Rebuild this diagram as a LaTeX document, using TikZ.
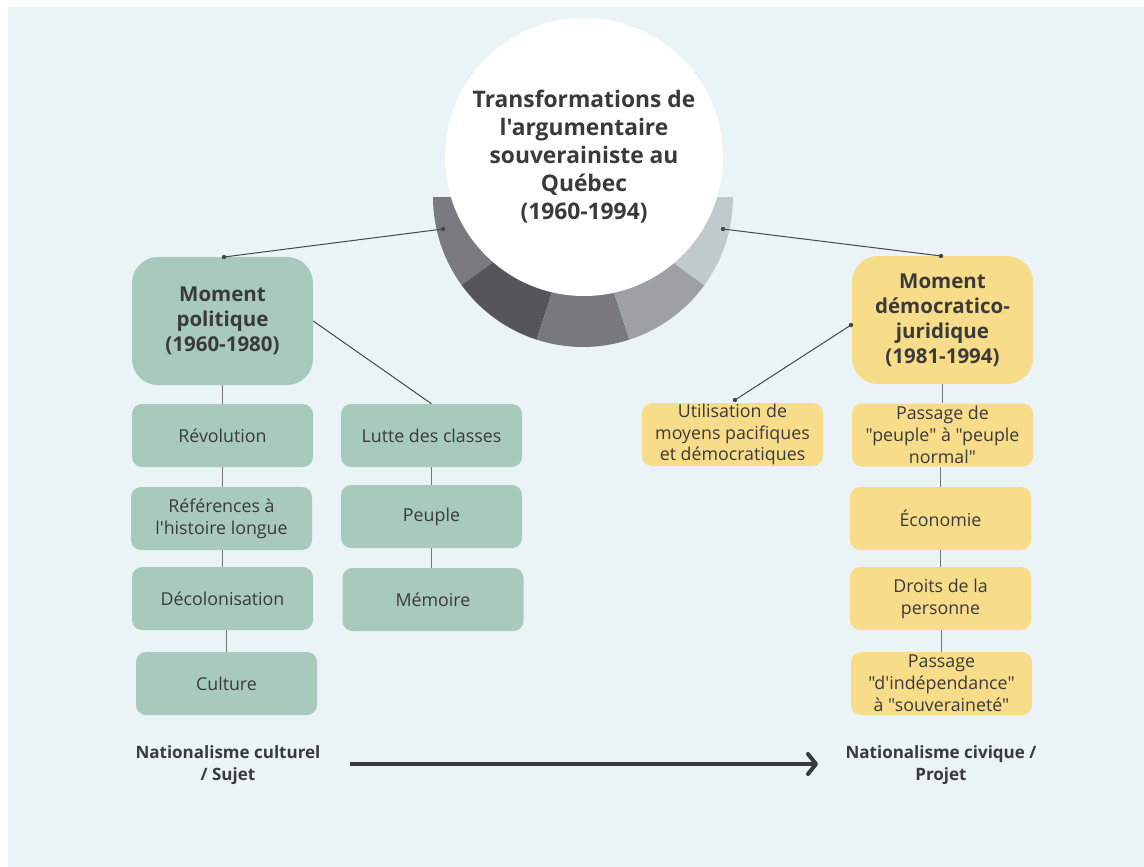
\documentclass[tikz,border=0pt]{standalone}
\usepackage{fontspec}
\setmainfont{Open Sans}[Ligatures=TeXOff]
\usetikzlibrary{arrows.meta}

\definecolor{panelc}{RGB}{234,244,246}
\definecolor{greenc}{RGB}{168,202,189}
\definecolor{yellowc}{RGB}{247,221,138}
\definecolor{txtc}{RGB}{58,58,58}
\definecolor{linkc}{RGB}{70,70,72}
\definecolor{stemc}{RGB}{120,120,122}
\definecolor{segA}{RGB}{123,122,128}
\definecolor{segB}{RGB}{86,85,90}
\definecolor{segC}{RGB}{120,120,125}
\definecolor{segD}{RGB}{157,161,164}
\definecolor{segE}{RGB}{194,201,204}
\definecolor{arrowc}{RGB}{58,58,60}

\begin{document}
\begin{tikzpicture}[x=1pt, y=-1pt,
  box/.style={rectangle, rounded corners=10pt, minimum width=181pt, minimum height=63pt,
    inner sep=0pt, align=center, text=txtc, font=\fontsize{17.8}{21.8}\selectfont},
  bigbox/.style={box, rounded corners=26pt, minimum height=128pt,
    font=\fontsize{20.5}{25}\selectfont\bfseries},
  greenbox/.style={box, fill=greenc},
  yellowbox/.style={box, fill=yellowc},
  link/.style={draw=linkc, line width=1pt},
  stem/.style={draw=stemc, line width=1.6pt},
  dot/.style={fill=linkc},
  sidelabel/.style={align=center, text=txtc, font=\fontsize{17}{22}\selectfont\bfseries}
]
\useasboundingbox (0,0) rectangle (1144,867);
\fill[white] (0,0) rectangle (1144,867);
\fill[panelc] (8,7) rectangle (1144,867);

% half ring of five grey segments under the title disc
\coordinate (rc) at (583,197);
\fill[segA] (rc) -- ++(180:150pt) arc[start angle=180, end angle=216, radius=150pt] -- cycle;
\fill[segB] (rc) -- ++(216:150pt) arc[start angle=216, end angle=252, radius=150pt] -- cycle;
\fill[segC] (rc) -- ++(252:150pt) arc[start angle=252, end angle=288, radius=150pt] -- cycle;
\fill[segD] (rc) -- ++(288:150pt) arc[start angle=288, end angle=324, radius=150pt] -- cycle;
\fill[segE] (rc) -- ++(324:150pt) arc[start angle=324, end angle=360, radius=150pt] -- cycle;

% title disc
\node[circle, fill=white, minimum size=278pt, inner sep=0pt, align=center, text=txtc,
  font=\fontsize{22.8}{28}\selectfont\bfseries] (title) at (584,157)
  {Transformations de\\l'argumentaire\\souverainiste au\\Québec\\(1960-1994)};

\coordinate (ringL) at (443,229);
\coordinate (ringR) at (723,229);

% political moment
\node[greenbox, bigbox, fill=greenc] (mp) at (222.5,321) {Moment\\politique\\(1960-1980)};
\node[greenbox] (rev) at (222.5,435.5) {Révolution};
\node[greenbox] (ref) at (221.5,518.5) {Références à\\l'histoire longue};
\node[greenbox] (dec) at (222.5,598.5) {Décolonisation};
\node[greenbox] (cul) at (226.5,683.5) {Culture};
\node[greenbox] (lut) at (431.5,435.5) {Lutte des classes};
\node[greenbox] (peu) at (431.5,516.5) {Peuple};
\node[greenbox] (mem) at (433,599.5) {Mémoire};

% democratic-juridical moment
\node[yellowbox, bigbox, fill=yellowc] (md) at (942.5,320) {Moment\\démocratico-\\juridique\\(1981-1994)};
\node[yellowbox] (uti) at (732.5,434.5) {Utilisation de\\moyens pacifiques\\et démocratiques};
\node[yellowbox] (pa1) at (942.5,435) {Passage de\\"peuple" à "peuple\\normal"};
\node[yellowbox] (eco) at (940.5,518.5) {Économie};
\node[yellowbox] (dro) at (940.5,598.5) {Droits de la\\personne};
\node[yellowbox] (pa2) at (941.5,683.5) {Passage\\"d'indépendance"\\à "souveraineté"};

% connectors from the disc to the two moments
\coordinate (mpTop) at (224,257);
\coordinate (mdTop) at (941,256);
\coordinate (mdLeft) at (851,325);
\coordinate (utiTop) at (735,400);
\draw[link] (ringL) -- (mpTop);
\draw[link] (ringR) -- (mdTop);
\draw[link] (mdLeft) -- (utiTop);
\foreach \p in {ringL, ringR, mpTop, mdTop, mdLeft, utiTop}
  \fill[dot] (\p) circle (2.2pt);
\draw[link] (mp.east) -- (lut.north);

% vertical stems
\draw[stem] (mp.south) -- (mp.south |- rev.north);
\draw[stem] (rev.south) -- (rev.south |- ref.north);
\draw[stem] (ref.south -| dec.north) -- (dec.north);
\draw[stem] (dec.south -| cul.north) -- (cul.north);
\draw[stem] (lut.south) -- (lut.south |- peu.north);
\draw[stem] (peu.south) -- (peu.south |- mem.north);
\draw[stem] (md.south) -- (md.south |- pa1.north);
\draw[stem] (pa1.south -| eco.north) -- (eco.north);
\draw[stem] (eco.south) -- (eco.south |- dro.north);
\draw[stem] (dro.south -| pa2.north) -- (pa2.north);

% bottom axis
\node[sidelabel] (nl) at (228,765) {Nationalisme culturel\\/ Sujet};
\node[sidelabel] (nr) at (941,765) {Nationalisme civique /\\Projet};
\coordinate (axS) at (350,764);
\coordinate (axE) at (818,764);
\draw[draw=arrowc, line width=4pt,
  -{Straight Barb[length=8pt, width=20pt, line cap=round, line join=round]}] (axS) -- (axE);
\end{tikzpicture}
\end{document}
